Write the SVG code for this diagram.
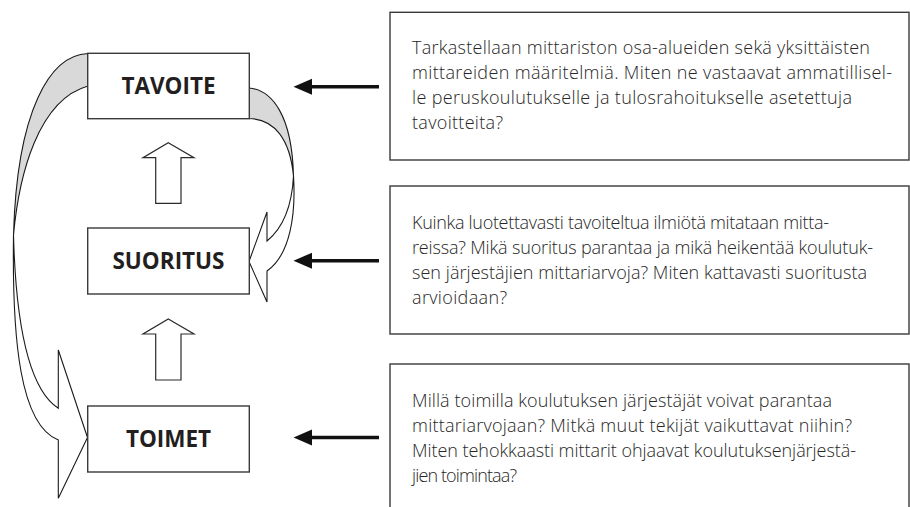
<svg xmlns="http://www.w3.org/2000/svg" width="910" height="507" viewBox="0 0 910 507">
<defs>
<style>
.box{fill:#fff;stroke:#3a3a3a;stroke-width:1.4}
.label{font-family:"Open Sans","Noto Sans","DejaVu Sans",sans-serif;font-weight:700;font-size:22.5px;fill:#231f20;text-anchor:middle}
.q{font-family:"Open Sans","Noto Sans","DejaVu Sans",sans-serif;font-weight:300;font-size:18px;fill:#262626}
.blk{stroke:#111;stroke-width:3.5;fill:none;marker-end:url(#ah)}
.block{fill:#fff;stroke:#2a2a2a;stroke-width:1.2}
.band{fill:#d9d9d9;stroke:#1a1a1a;stroke-width:1.1;stroke-linejoin:round}
.front{fill:#fff;stroke:#1a1a1a;stroke-width:1.1;stroke-linejoin:miter}
</style>
<marker id="ah" markerUnits="userSpaceOnUse" markerWidth="20" markerHeight="17" refX="12" refY="8.5" orient="auto" viewBox="0 0 19 17">
<path d="M0,0.5 L18.5,8.5 L0,16.5 Z" fill="#111"/>
</marker>
</defs>

<g id="connectors">
  <!-- big left curved arrow: TAVOITE -> TOIMET -->
  <path class="band" d="M88,53.5 C50,55 17,110 13.5,235 C19,175 38,100 88,86 Z"/>
  <path class="front" d="M13.5,235 C12,340 20,425 58.3,440 L58.3,498.3 L87.5,437.5 L58.3,350 L58.3,408.3 C30,390 16,330 13.5,235 Z"/>
  <!-- right curved arrow: TAVOITE -> SUORITUS -->
  <path class="band" d="M249,88 C272,90 292,115 293.5,176 C290,140 275,119 249,118.5 Z"/>
  <path class="front" d="M293.5,176 C296,215 290,255 267,271 L267,302 L249,261.5 L267,212 L267,241 C283,228 292,205 293.5,176 Z"/>
  <!-- up block arrows -->
  <path class="block" d="M168.3,142.7 L194,157.7 L181,157.7 L181,203.3 L155.7,203.3 L155.7,157.7 L143,157.7 Z"/>
  <path class="block" d="M168.3,319 L194,334 L181,334 L181,380 L155.7,380 L155.7,334 L143,334 Z"/>
  <!-- black arrows from question boxes -->
  <line class="blk" x1="379" y1="86.7" x2="300" y2="86.7"/>
  <line class="blk" x1="379" y1="260.7" x2="300" y2="260.7"/>
  <line class="blk" x1="379" y1="437.5" x2="300" y2="437.5"/>
</g>

<g id="node-tavoite">
  <rect class="box" x="87.7" y="53.3" width="161.6" height="65.4"/>
  <text class="label" x="168.5" y="94">TAVOITE</text>
</g>
<g id="node-suoritus">
  <rect class="box" x="87.7" y="228" width="161.6" height="66"/>
  <text class="label" x="168.5" y="269.3">SUORITUS</text>
</g>
<g id="node-toimet">
  <rect class="box" x="87.7" y="406" width="161.6" height="66"/>
  <text class="label" x="168.5" y="446.7">TOIMET</text>
</g>

<g id="node-q1">
  <rect class="box" x="390" y="12.3" width="519" height="147.7"/>
  <text class="q" x="412" y="53.5" textLength="458" lengthAdjust="spacing">Tarkastellaan mittariston osa-alueiden sekä yksittäisten</text>
  <text class="q" x="412" y="78.5" textLength="480" lengthAdjust="spacing">mittareiden määritelmiä. Miten ne vastaavat ammatillisel-</text>
  <text class="q" x="412" y="103.5" textLength="440" lengthAdjust="spacing">le peruskoulutukselle ja tulosrahoitukselle asetettuja</text>
  <text class="q" x="412" y="128.5" textLength="91" lengthAdjust="spacing">tavoitteita?</text>
</g>
<g id="node-q2">
  <rect class="box" x="390" y="186" width="519" height="148"/>
  <text class="q" x="412" y="228.5" textLength="417" lengthAdjust="spacing">Kuinka luotettavasti tavoiteltua ilmiötä mitataan mitta-</text>
  <text class="q" x="412" y="253.5" textLength="461" lengthAdjust="spacing">reissa? Mikä suoritus parantaa ja mikä heikentää koulutuk-</text>
  <text class="q" x="412" y="278.5" textLength="455" lengthAdjust="spacing">sen järjestäjien mittariarvoja? Miten kattavasti suoritusta</text>
  <text class="q" x="412" y="303.5" textLength="95" lengthAdjust="spacing">arvioidaan?</text>
</g>
<g id="node-q3">
  <rect class="box" x="390" y="364" width="519" height="160"/>
  <text class="q" x="412" y="406.5" textLength="420" lengthAdjust="spacing">Millä toimilla koulutuksen järjestäjät voivat parantaa</text>
  <text class="q" x="412" y="431.5" textLength="440" lengthAdjust="spacing">mittariarvojaan? Mitkä muut tekijät vaikuttavat niihin?</text>
  <text class="q" x="412" y="456.5" textLength="444" lengthAdjust="spacing">Miten tehokkaasti mittarit ohjaavat koulutuksenjärjestä-</text>
  <text class="q" x="412" y="481.5" textLength="105" lengthAdjust="spacing">jien toimintaa?</text>
</g>
</svg>
